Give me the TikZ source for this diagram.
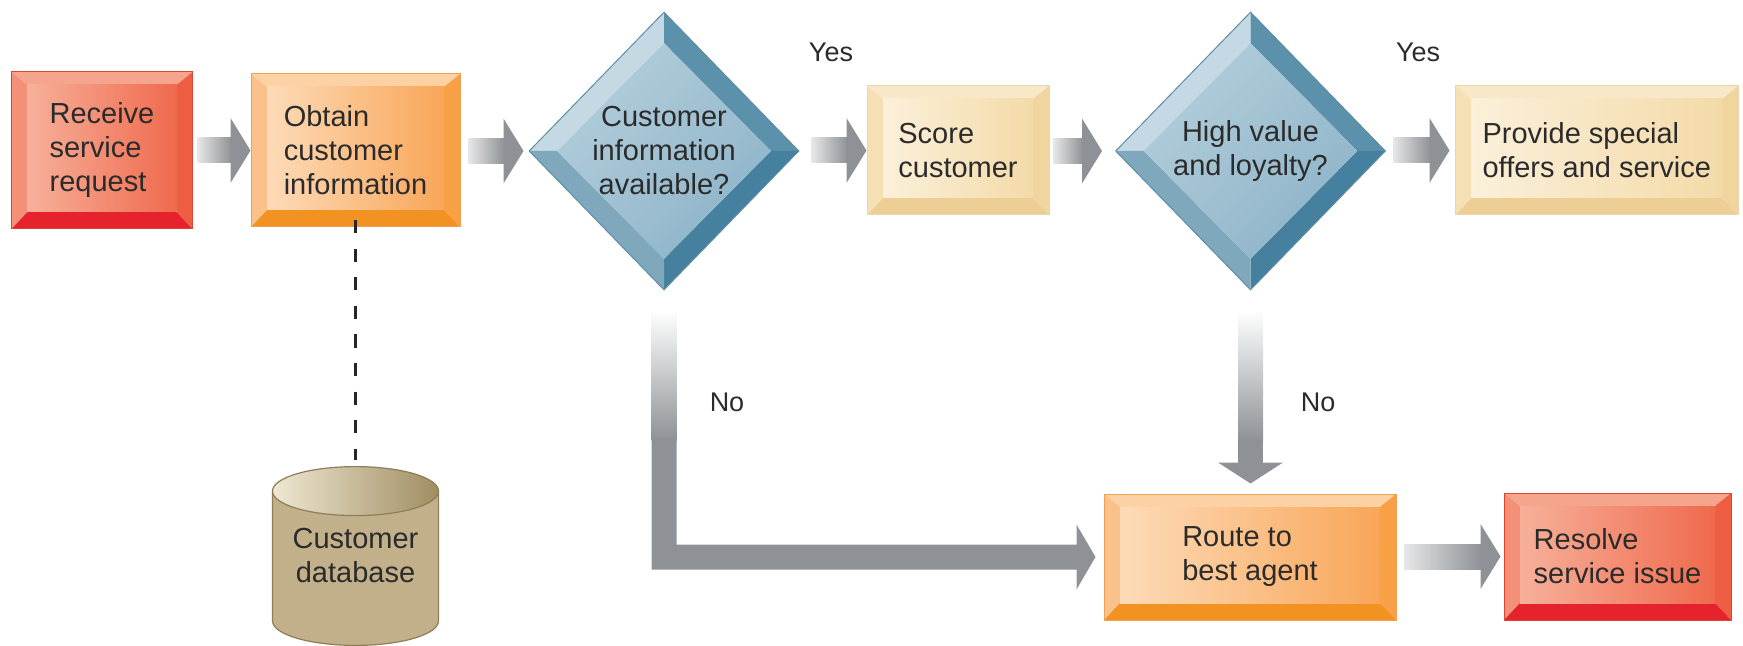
\documentclass[tikz,border=0pt]{standalone}
\usepackage{fontspec}
\setmainfont{Liberation Sans}
\usetikzlibrary{shapes.geometric,calc,backgrounds,shadings}

\definecolor{txt}{HTML}{2B2B2B}
\definecolor{rFL}{HTML}{F7B09A}
\definecolor{rFR}{HTML}{EF6A4D}
\definecolor{rT}{HTML}{F5A58C}
\definecolor{rL}{HTML}{F39077}
\definecolor{rR}{HTML}{EE5E42}
\definecolor{rB}{HTML}{E6222C}
\definecolor{rO}{HTML}{E0452F}
\definecolor{oFL}{HTML}{FDDBB8}
\definecolor{oFR}{HTML}{F9A659}
\definecolor{oT}{HTML}{FCD1A3}
\definecolor{oL}{HTML}{FBC18B}
\definecolor{oR}{HTML}{F7A045}
\definecolor{oB}{HTML}{F29223}
\definecolor{oO}{HTML}{F0A055}
\definecolor{tFL}{HTML}{FBF0DA}
\definecolor{tFR}{HTML}{F4DAA8}
\definecolor{tT}{HTML}{F8E8C8}
\definecolor{tL}{HTML}{F5E0B6}
\definecolor{tR}{HTML}{F1D59F}
\definecolor{tB}{HTML}{EDCE95}
\definecolor{tO}{HTML}{EAD6AE}
\definecolor{dFL}{HTML}{B9D2DF}
\definecolor{dFM}{HTML}{A0C1D2}
\definecolor{dFR}{HTML}{87AFC4}
\definecolor{dTL}{HTML}{C4D9E3}
\definecolor{dTR}{HTML}{5B91AA}
\definecolor{dBR}{HTML}{45809F}
\definecolor{dBL}{HTML}{7FA8BD}
\definecolor{dO}{HTML}{5E8DA5}
\definecolor{arrgy}{HTML}{8E9296}
\definecolor{arrlt}{HTML}{E6E7E8}
\definecolor{cylbody}{HTML}{C2B08A}
\definecolor{cylline}{HTML}{8E7D58}
\definecolor{cyltopL}{HTML}{EEE7D2}
\definecolor{cyltopR}{HTML}{A08D62}

\newcommand\pb{path picture bounding box}
\newcommand\boxfont{\fontsize{14.5pt}{17pt}\selectfont}
\newcommand\lblfont{\fontsize{13.5pt}{16pt}\selectfont}

\newcommand\harrow[2]{%
  \shade[left color=arrlt, right color=arrgy] let \p1=#1, \p2=#2 in
    (\x1,\y2-6.25pt) rectangle (\x2-9.5pt,\y2+6.25pt);
  \fill[arrgy] let \p2=#2 in
    (\x2-10pt,\y2+16.25pt) -- (\x2,\y2) -- (\x2-10pt,\y2-16.25pt) -- cycle;
}

\tikzset{
  bevelbox/.style n args={7}{rectangle, inner sep=0pt, align=left, font=\boxfont,
    text=txt, draw=#7, line width=0.5pt,
    path picture={
      \fill[#3] (\pb.north west) -- (\pb.north east) -- ([shift={(-8pt,-6.5pt)}]\pb.north east) -- ([shift={(8pt,-6.5pt)}]\pb.north west) -- cycle;
      \fill[#4] (\pb.north west) -- ([shift={(8pt,-6.5pt)}]\pb.north west) -- ([shift={(8pt,8.5pt)}]\pb.south west) -- (\pb.south west) -- cycle;
      \fill[#5] (\pb.north east) -- ([shift={(-8pt,-6.5pt)}]\pb.north east) -- ([shift={(-8pt,8.5pt)}]\pb.south east) -- (\pb.south east) -- cycle;
      \fill[#6] (\pb.south west) -- ([shift={(8pt,8.5pt)}]\pb.south west) -- ([shift={(-8pt,8.5pt)}]\pb.south east) -- (\pb.south east) -- cycle;
      \shade[left color=#1, right color=#2] ([shift={(8pt,8.5pt)}]\pb.south west) rectangle ([shift={(-8pt,-6.5pt)}]\pb.north east);
    }},
  redbox/.style={bevelbox={rFL}{rFR}{rT}{rL}{rR}{rB}{rO}},
  orangebox/.style={bevelbox={oFL}{oFR}{oT}{oL}{oR}{oB}{oO}},
  tanbox/.style={bevelbox={tFL}{tFR}{tT}{tL}{tR}{tB}{tO}},
  diam/.style={diamond, aspect=1, inner sep=0pt, minimum width=135pt, minimum height=139pt,
    align=center, font=\boxfont, text=txt, draw=dO, line width=0.5pt,
    path picture={
      \fill[dTL] (\pb.west) -- (\pb.north) -- ([yshift=-15.5pt]\pb.north) -- ([xshift=14pt]\pb.west) -- cycle;
      \fill[dTR] (\pb.north) -- (\pb.east) -- ([xshift=-14pt]\pb.east) -- ([yshift=-15.5pt]\pb.north) -- cycle;
      \fill[dBR] (\pb.east) -- (\pb.south) -- ([yshift=15.5pt]\pb.south) -- ([xshift=-14pt]\pb.east) -- cycle;
      \fill[dBL] (\pb.south) -- (\pb.west) -- ([xshift=14pt]\pb.west) -- ([yshift=15.5pt]\pb.south) -- cycle;
      \shade[upper left=dFL, upper right=dFM, lower left=dFM, lower right=dFR]
        ([xshift=14pt]\pb.west) -- ([yshift=-15.5pt]\pb.north) -- ([xshift=-14pt]\pb.east) -- ([yshift=15.5pt]\pb.south) -- cycle;
    }},
  lbl/.style={font=\lblfont, text=txt, inner sep=0pt},
  dashline/.style={draw=black!85, line width=1.8pt, dash pattern=on 6.5pt off 7.75pt},
}

\begin{document}
\begin{tikzpicture}[x=0.5pt, y=0.5pt]
\useasboundingbox (0,0) rectangle (1743,-646);

% boxes
\node[redbox, minimum width=90.5pt, minimum height=78.5pt] (recv) at (102,-150.5) {Receive\\service\\request};
\node[orangebox, minimum width=104.5pt, minimum height=76.5pt] (obtain) at (355.5,-150.5) {Obtain\\customer\\information};
\node[diam] (d1) at (664,-151) {Customer\\information\\available?};
\node[tanbox, minimum width=91pt, minimum height=64.5pt] (score) at (958,-150.5) {Score\\customer};
\node[diam] (d2) at (1250.5,-151) {High value\\and loyalty?};
\node[tanbox, minimum width=141.25pt, minimum height=64.5pt] (prov) at (1596.75,-150.5) {Provide special\\offers and service};
\node[orangebox, minimum width=146pt, minimum height=63pt] (route) at (1250,-557) {Route to\\best agent};
\node[redbox, minimum width=113.5pt, minimum height=63.5pt] (resolve) at (1617.5,-556.5) {Resolve\\service issue};

% database
\node[font=\boxfont, text=txt, align=center, minimum width=83pt, minimum height=89pt, inner sep=0pt] (db) at (355.5,-556) {Customer\\database};
\begin{scope}[on background layer]
  \coordinate (dbt) at ($(db.north)+(0,-12.25pt)$);
  \coordinate (dbb) at ($(db.south)+(0,12.25pt)$);
  \filldraw[fill=cylbody, draw=cylline, line width=0.6pt]
    ($(dbt)+(-41.5pt,0)$) -- ($(dbb)+(-41.5pt,0)$)
    arc[start angle=180, end angle=360, x radius=41.5pt, y radius=12.25pt]
    -- ($(dbt)+(41.5pt,0)$) -- cycle;
  \shade[left color=cyltopL, right color=cyltopR] (dbt) ellipse[x radius=41.5pt, y radius=12.25pt];
  \draw[cylline, line width=0.6pt] (dbt) ellipse[x radius=41.5pt, y radius=12.25pt];
\end{scope}

% labels
\node[lbl, anchor=base] (yes1) at (831,-62) {Yes};
\node[lbl, anchor=base] (yes2) at (1418,-62) {Yes};
\node[lbl, anchor=base] (no1) at (727,-411) {No};
\node[lbl, anchor=base] (no2) at (1318,-411) {No};

% horizontal arrows
\harrow{($(recv.east)+(2.25pt,0)$)}{(obtain.west)}
\harrow{($(obtain.east)+(4pt,0)$)}{($(d1.west)+(-2.5pt,0)$)}
\harrow{($(d1.east)+(6pt,0)$)}{(score.west)}
\harrow{($(score.east)+(2pt,0)$)}{($(d2.west)+(-6.5pt,0)$)}
\harrow{($(d2.east)+(3.5pt,0)$)}{($(prov.west)+(-2.75pt,0)$)}
\harrow{($(route.east)+(3.75pt,0)$)}{($(resolve.west)+(-1.5pt,0)$)}

% vertical arrow d2 -> route
\shade[top color=white, bottom color=arrgy] let \p1=(d2.south) in
  (\x1-6.25pt,\y1-10pt) rectangle (\x1+6.25pt,\y1-75pt);
\fill[arrgy] let \p1=(d2.south), \p2=(route.north) in
  (\x1-6.25pt,\y1-74.5pt) rectangle (\x1+6.25pt,\y2+15pt);
\fill[arrgy] let \p1=(d2.south), \p2=(route.north) in
  (\x1-16.25pt,\y2+15.5pt) -- (\x1,\y2+5pt) -- (\x1+16.25pt,\y2+15.5pt) -- cycle;

% L arrow d1 -> route
\shade[top color=white, bottom color=arrgy] let \p1=(d1.south) in
  (\x1-6.25pt,\y1-10pt) rectangle (\x1+6.25pt,\y1-75pt);
\fill[arrgy] let \p1=(d1.south), \p2=(route.west) in
  (\x1-6.25pt,\y1-74.5pt) -- (\x1-6.25pt,\y2-6.25pt) -- (\x2-13.5pt,\y2-6.25pt)
  -- (\x2-13.5pt,\y2-16.25pt) -- (\x2-4pt,\y2) -- (\x2-13.5pt,\y2+16.25pt)
  -- (\x2-13.5pt,\y2+6.25pt) -- (\x1+6.25pt,\y2+6.25pt) -- (\x1+6.25pt,\y1-74.5pt) -- cycle;

% dashed link
\draw[dashline] ([yshift=3.5pt]obtain.south) -- ([yshift=3.5pt]db.north);
\end{tikzpicture}
\end{document}
